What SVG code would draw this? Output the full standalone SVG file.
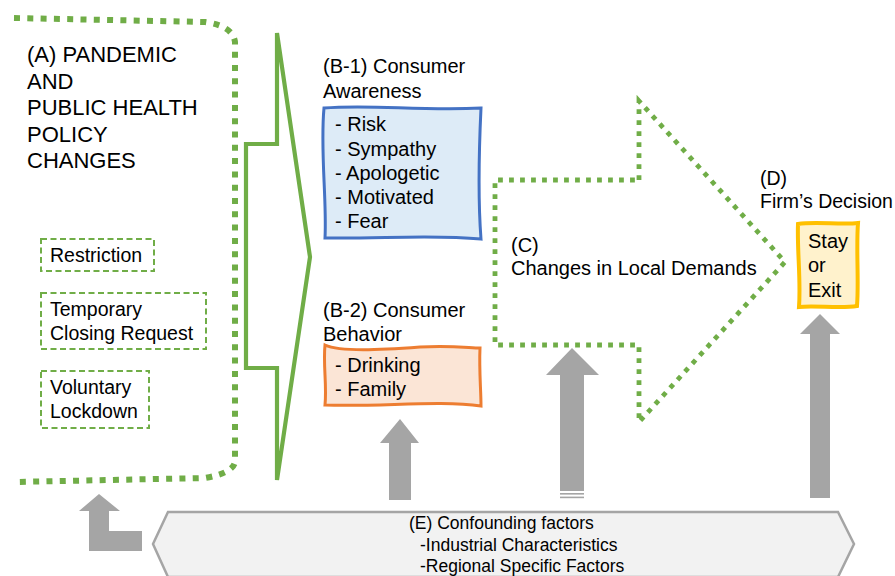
<svg xmlns="http://www.w3.org/2000/svg" width="895" height="576" viewBox="0 0 895 576">
<style>
text{font-family:"Liberation Sans",Arial,sans-serif;fill:#000}
.t22{font-size:22px}
.t20{font-size:20px}
.t19{font-size:19.5px}
.t17{font-size:17.5px}
.bigdot{fill:none;stroke:#70AD47;stroke-width:6;stroke-dasharray:6 7.3}
.dot{fill:none;stroke:#70AD47;stroke-width:4.8;stroke-dasharray:4.8 6.2}
.dash{fill:#fff;stroke:#70AD47;stroke-width:2;stroke-dasharray:6 3.5}
.gray{fill:#A5A5A5}
</style>
<rect width="895" height="576" fill="#fff"/>
<g id="connectors">
  <polygon id="brace" points="277,33 310,257 277,480 277,368 246,368 246,144 277,144" fill="#fff" stroke="#70AD47" stroke-width="4.2" stroke-linejoin="miter"/>
  <polygon id="arrowB2" class="gray" points="400,419 419,443 411,443 411,500 389,500 389,443 380,443"/>
  <g id="arrowC">
    <polygon class="gray" points="572,348 599,375 584,375 584,491 560,491 560,375 546,375"/>
    <rect class="gray" x="560" y="493" width="24" height="1.6"/>
    <rect class="gray" x="560" y="496.6" width="24" height="1.6"/>
  </g>
  <polygon id="arrowD" class="gray" points="820,314 840,334 830,334 830,498 810,498 810,334 800,334"/>
  <polygon id="arrowA" class="gray" points="99,494 120,511 109,511 109,531 142,531 142,551 89,551 89,511 79,511"/>
</g>
<g id="nodeA">
  <path class="bigdot" d="M14,18 L205,22 Q233,26 235,42 L235,462 Q233,473 205,478 L14,482"/>
  <text class="t22" x="27" y="62">(A) PANDEMIC</text>
  <text class="t22" x="27" y="88.5">AND</text>
  <text class="t22" x="27" y="115">PUBLIC HEALTH</text>
  <text class="t22" x="27" y="141.5">POLICY</text>
  <text class="t22" x="27" y="168">CHANGES</text>
</g>
<g id="nodeRestriction">
  <rect class="dash" x="41" y="239" width="113" height="32"/>
  <text class="t19" x="50" y="262">Restriction</text>
</g>
<g id="nodeClosing">
  <rect class="dash" x="41" y="293" width="165" height="56"/>
  <text class="t19" x="50" y="316">Temporary</text>
  <text class="t19" x="50" y="340">Closing Request</text>
</g>
<g id="nodeLockdown">
  <rect class="dash" x="41" y="371" width="108" height="57"/>
  <text class="t19" x="50" y="394">Voluntary</text>
  <text class="t19" x="50" y="418">Lockdown</text>
</g>
<g id="nodeB1">
  <text class="t20" x="323" y="73">(B-1) Consumer</text>
  <text class="t20" x="323" y="98">Awareness</text>
  <path d="M324,108 C370,104 420,111 481,108 C479,150 478,200 481,239 C430,234 380,239 325,238 C327,200 320,150 324,108 Z" fill="#DDEBF7" stroke="#4472C4" stroke-width="3"/>
  <text class="t20" x="335" y="131">- Risk</text>
  <text class="t20" x="335" y="156">- Sympathy</text>
  <text class="t20" x="335" y="180">- Apologetic</text>
  <text class="t20" x="335" y="204">- Motivated</text>
  <text class="t20" x="335" y="228">- Fear</text>
</g>
<g id="nodeB2">
  <text class="t20" x="323" y="317">(B-2) Consumer</text>
  <text class="t20" x="323" y="341">Behavior</text>
  <path d="M325,345 C340,352 380,350 420,347 C450,345 470,348 480,348 C479,370 481,390 481,406 C440,400 380,407 325,405 C327,385 323,365 325,345 Z" fill="#FBE5D6" stroke="#ED7D31" stroke-width="3"/>
  <text class="t20" x="335" y="372">- Drinking</text>
  <text class="t20" x="335" y="396">- Family</text>
</g>
<g id="nodeC">
  <path class="dot" d="M639,180 L639,101 L785,262 L639,422 L639,345 L495,345 L495,180 Z"/>
  <text class="t20" x="511" y="252">(C)</text>
  <text class="t20" x="511" y="275">Changes in Local Demands</text>
</g>
<g id="nodeD">
  <text class="t19" x="760" y="185">(D)</text>
  <text class="t19" x="760" y="208">Firm’s Decision</text>
  <path d="M798,224 C815,221 840,225 858,223 C856,250 859,280 857,306 C840,309 815,305 799,307 C801,280 797,250 798,224 Z" fill="#FFF2CC" stroke="#FFC000" stroke-width="4"/>
  <text class="t20" x="808" y="248">Stay</text>
  <text class="t20" x="808" y="272">or</text>
  <text class="t20" x="808" y="297">Exit</text>
</g>
<g id="nodeE">
  <polygon points="168,512 838,512 854,544 838,577 168,577 153,544" fill="#F2F2F2" stroke="#A5A5A5" stroke-width="2.5"/>
  <text class="t17" x="409" y="529">(E) Confounding factors</text>
  <text class="t17" x="420" y="551">-Industrial Characteristics</text>
  <text class="t17" x="420" y="572">-Regional Specific Factors</text>
</g>
</svg>
